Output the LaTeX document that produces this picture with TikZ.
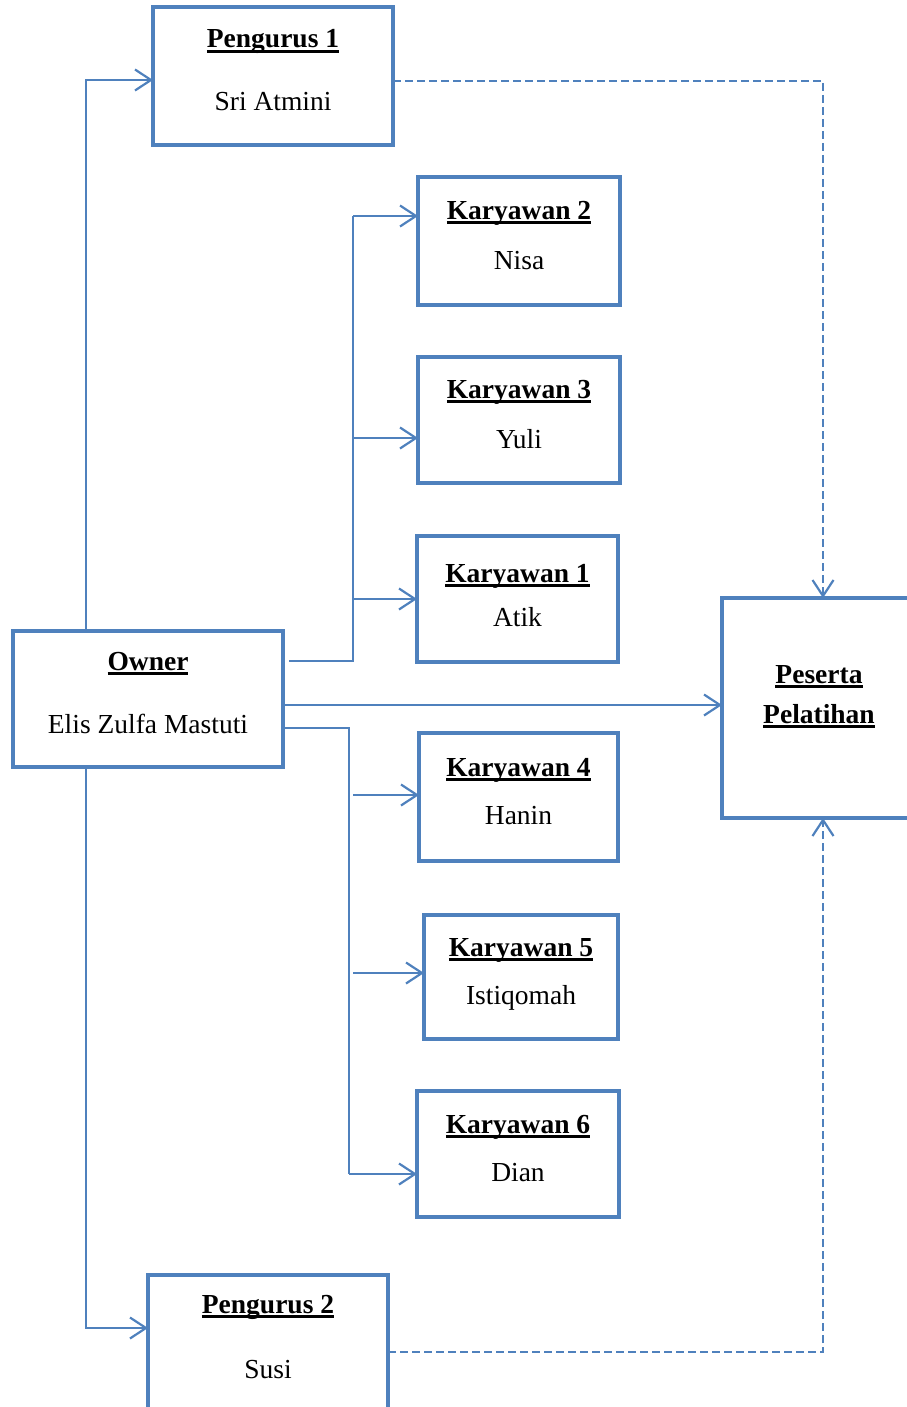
\documentclass[tikz,border=0pt]{standalone}
\usepackage{fontspec}
\setmainfont{Liberation Serif}
\usetikzlibrary{arrows.meta}
\definecolor{bl}{HTML}{4F81BD}
\newcommand\ulbf[1]{\setbox0\hbox{\bfseries #1}\rlap{\rule[-5pt]{\wd0}{2.6pt}}\box0}
\begin{document}
\begin{tikzpicture}[x=1pt,y=-1pt,
  box/.style={draw=bl, line width=4.5pt, inner sep=0pt, outer sep=0pt, rectangle},
  txt/.style={anchor=base, inner sep=0pt, font=\fontsize{27.5}{33}\selectfont},
  conn/.style={draw=bl, line width=2.2pt},
  arr/.style={conn, -{Straight Barb[length=16pt,width=21pt]}},
  darr/.style={conn, dash pattern=on 8pt off 4pt, -{Straight Barb[length=16pt,width=21pt]}}]
\useasboundingbox (0,0) rectangle (906,1407);
% boxes
\node[box, minimum width=240pt, minimum height=138pt] (p1) at (273,76) {};
\node[box, minimum width=202pt, minimum height=128pt] (k2) at (519,241) {};
\node[box, minimum width=202pt, minimum height=126pt] (k3) at (519,420) {};
\node[box, minimum width=201pt, minimum height=126pt] (k1) at (517.5,599) {};
\node[box, minimum width=270pt, minimum height=136pt] (own) at (148,699) {};
\node[box, minimum width=199pt, minimum height=128pt] (k4) at (518.5,797) {};
\node[box, minimum width=194pt, minimum height=124pt] (k5) at (521,977) {};
\node[box, minimum width=202pt, minimum height=126pt] (k6) at (518,1154) {};
\node[box, minimum width=240pt, minimum height=165pt] (p2) at (268,1357.5) {};
\node[box, minimum width=238pt, minimum height=220pt] (ps) at (841,708) {};
% texts
\node[txt] (p1t) at (273,48) {\ulbf{Pengurus 1}};
\node[txt] (p1n) at (273,111) {Sri Atmini};
\node[txt] (k2t) at (519,219) {\ulbf{Karyawan 2}};
\node[txt] (k2n) at (519,269) {Nisa};
\node[txt] (k3t) at (519,398) {\ulbf{Karyawan 3}};
\node[txt] (k3n) at (519,448) {Yuli};
\node[txt] (k1t) at (517.5,582) {\ulbf{Karyawan 1}};
\node[txt] (k1n) at (517.5,626) {Atik};
\node[txt] (ownt) at (148,670) {\ulbf{Owner}};
\node[txt] (ownn) at (148,733) {Elis Zulfa Mastuti};
\node[txt] (k4t) at (518.5,776) {\ulbf{Karyawan 4}};
\node[txt] (k4n) at (518.5,824) {Hanin};
\node[txt] (k5t) at (521,956) {\ulbf{Karyawan 5}};
\node[txt] (k5n) at (521,1004) {Istiqomah};
\node[txt] (k6t) at (518,1133) {\ulbf{Karyawan 6}};
\node[txt] (k6n) at (518,1181) {Dian};
\node[txt] (p2t) at (268,1313) {\ulbf{Pengurus 2}};
\node[txt] (p2n) at (268,1378) {Susi};
\node[txt] (pst) at (819,683) {\ulbf{Peserta}};
\node[txt] (psn) at (819,723) {\ulbf{Pelatihan}};
% bend points
\coordinate (tup) at (86,80);
\coordinate (tdn) at (86,1328);
\coordinate (ub0) at (289,661);
\coordinate (ub1) at (353,661);
\coordinate (ub2) at (353,216);
\coordinate (ub3) at (353,438);
\coordinate (ub4) at (353,599);
\coordinate (lb1) at (349,728);
\coordinate (lb2) at (349,1174);
\coordinate (lb3) at (353,795);
\coordinate (lb4) at (353,973);
\coordinate (pl) at (0,705);
\coordinate (d1) at (823,81);
\coordinate (d2) at (823,1352);
% connectors
\draw[arr] (own.north -| tup) -- (tup) -- (p1.west |- tup);
\draw[arr] (own.south -| tdn) -- (tdn) -- (p2.west |- tdn);
\draw[conn] (ub0) -- (ub1) -- (ub2);
\draw[arr] (ub2) -- (k2.west |- ub2);
\draw[arr] (ub3) -- (k3.west |- ub3);
\draw[arr] (ub4) -- (k1.west |- ub4);
\draw[conn] (own.east |- lb1) -- (lb1) -- (lb2);
\draw[arr] (lb2) -- (k6.west |- lb2);
\draw[arr] (lb3) -- (k4.west |- lb3);
\draw[arr] (lb4) -- (k5.west |- lb4);
\draw[arr] (own.east |- pl) -- (ps.west |- pl);
\draw[darr] (p1.east |- d1) -- (d1) -- (ps.north -| d1);
\draw[darr] (p2.east |- d2) -- (d2) -- (ps.south -| d2);
\end{tikzpicture}
\end{document}
